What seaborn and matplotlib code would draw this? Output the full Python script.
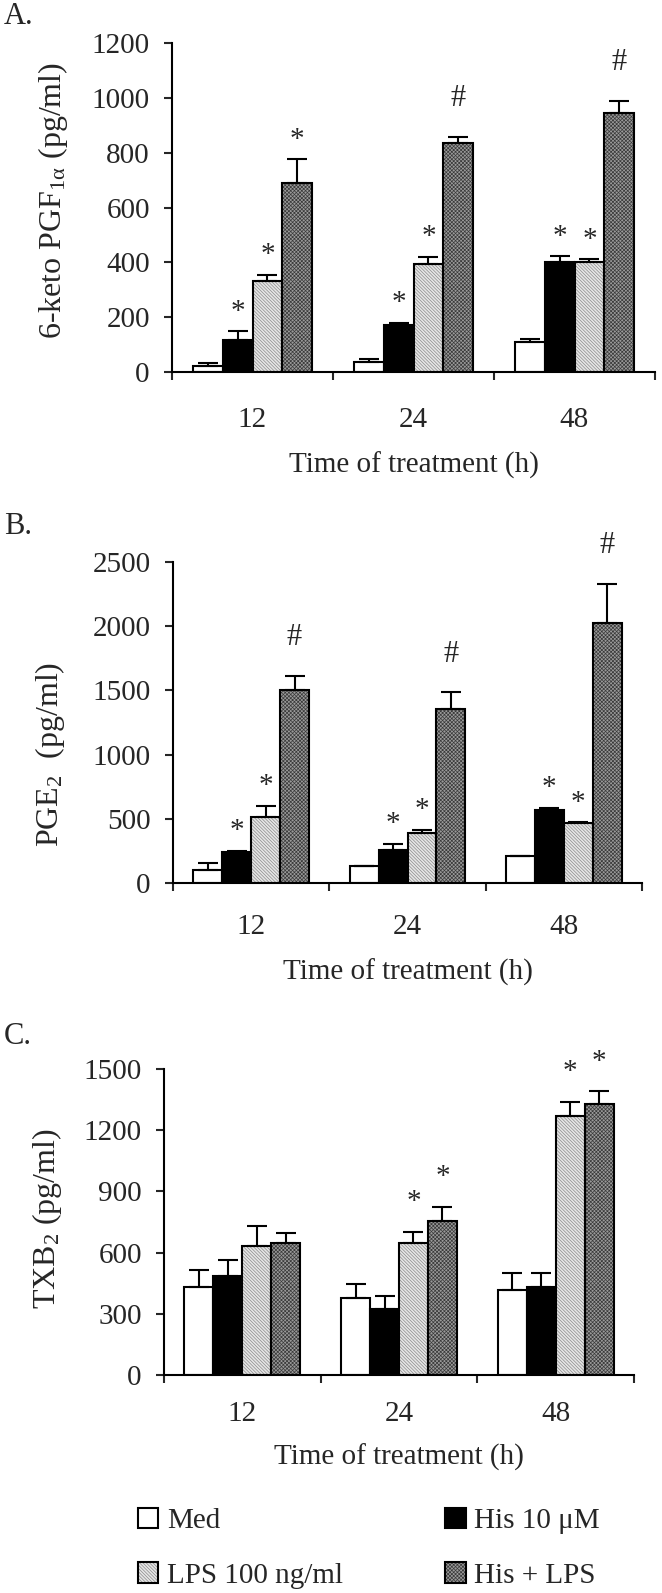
import numpy as np
import pandas as pd
import matplotlib
matplotlib.use('Agg')
import matplotlib.pyplot as plt
import seaborn as sns
from matplotlib.patches import Patch, Rectangle
from matplotlib.legend_handler import HandlerTuple

times = ['12', '24', '48']
treatments = ['Med', 'His 10 μM', 'LPS 100 ng/ml', 'His + LPS']

# A: 6-keto PGF1a
a_mean = [[22, 38, 110], [115, 171, 402], [332, 393, 400], [689, 836, 946]]
a_err = [[10, 9, 9], [33, 9, 21], [22, 27, 12], [87, 21, 44]]
a_sig = [['', '', ''], ['*', '*', '*'], ['*', '*', '*'], ['*', '#', '#']]

# B: PGE2
b_mean = [[101, 132, 213], [244, 257, 569], [511, 386, 464], [1503, 1355, 2022]]
b_err = [[52, 0, 0], [6, 47, 18], [89, 27, 11], [112, 130, 307]]
b_sig = [['', '', ''], ['*', '*', '*'], ['*', '*', '*'], ['#', '#', '#']]

# C: TXB2
c_mean = [[430, 376, 417], [485, 325, 433], [632, 645, 1270], [649, 755, 1327]]
c_err = [[85, 68, 81], [79, 64, 65], [98, 58, 70], [46, 70, 65]]
c_sig = [['', '', ''], ['', '', ''], ['', '*', '*'], ['', '*', '*']]

face_colors = ['white', 'black', '#e6e6e6', '#9a9a9a']
hatches = [None, None, '\\' * 10, 'x' * 9]
hatch_colors = [None, None, '#8a8a8a', '#3a3a3a']

sns.set_style('white')
plt.rcParams['font.family'] = ['Liberation Serif', 'DejaVu Serif']
plt.rcParams['mathtext.fontset'] = 'custom'
plt.rcParams['mathtext.rm'] = 'Liberation Serif'
plt.rcParams['mathtext.it'] = 'Liberation Serif:italic'
plt.rcParams['hatch.linewidth'] = 0.5

W, H = 662, 1593
fig = plt.figure(figsize=(W / 100, H / 100), dpi=100)


def add_axes_px(left, top, right, bottom):
    return fig.add_axes([left / W, 1 - bottom / H, (right - left) / W, (bottom - top) / H])


def draw_panel(ax, means, errs, sigs, ylabel, ymax, ystep, label_xy, star_off,
               tick_pad, xlabel_pad):
    rows = []
    for i, tr in enumerate(treatments):
        for j, t in enumerate(times):
            rows.append({'time': t, 'treatment': tr, 'value': means[i][j]})
    df = pd.DataFrame(rows)
    sns.barplot(data=df, x='time', y='value', hue='treatment', order=times,
                hue_order=treatments, palette=face_colors, saturation=1,
                width=0.74, edgecolor='black', linewidth=1.5, errorbar=None,
                legend=False, ax=ax)

    bar_conts = list(ax.containers)
    for i, cont in enumerate(bar_conts):
        xs, tops = [], []
        for bar in cont.patches:
            xs.append(bar.get_x() + bar.get_width() / 2)
            tops.append(bar.get_height())
            if hatches[i]:
                bar.set_hatch(hatches[i])
                bar.set_edgecolor(hatch_colors[i])
                bar.set_linewidth(0)
                ax.add_patch(Rectangle((bar.get_x(), 0), bar.get_width(), bar.get_height(),
                                       fill=False, edgecolor='black', linewidth=1.5, zorder=3))
        ax.errorbar(xs, tops, yerr=[np.zeros(len(xs)), errs[i]], fmt='none',
                    ecolor='black', elinewidth=1.5, capsize=7, capthick=1.5, zorder=2)
        for j, s in enumerate(sigs[i]):
            if not s:
                continue
            if s == '*':
                ax.annotate(s, (xs[j], tops[j] + errs[i][j]), xytext=(0, star_off),
                            textcoords='offset points', ha='center', va='baseline', fontsize=21)
            else:
                ax.annotate(s, (xs[j], tops[j] + errs[i][j]), xytext=(0, 22),
                            textcoords='offset points', ha='center', va='baseline', fontsize=22)

    ax.set_xlim(-0.5, 2.5)
    ax.set_ylim(0, ymax)
    ax.set_yticks(np.arange(0, ymax + 1, ystep))
    ax.set_xticks([-0.5, 0.5, 1.5, 2.5])
    ax.set_xticklabels([])
    ax.set_xticks([0, 1, 2], minor=True)
    ax.set_xticklabels(times, minor=True)
    ax.tick_params(axis='x', which='major', direction='out', length=6, width=1.5, bottom=True)
    ax.tick_params(axis='x', which='minor', length=0, pad=tick_pad, labelsize=21)
    ax.tick_params(axis='y', direction='out', length=6, width=1.5, left=True, pad=10, labelsize=21)
    for sp in ['top', 'right']:
        ax.spines[sp].set_visible(False)
    for sp in ['left', 'bottom']:
        ax.spines[sp].set_linewidth(1.5)
        ax.spines[sp].set_color('black')
    ax.set_xlabel('Time of treatment (h)', fontsize=21, labelpad=xlabel_pad)
    ax.set_ylabel(ylabel, fontsize=23, va='center', ha='center')
    ax.yaxis.set_label_coords(*label_xy)


ax_a = add_axes_px(172, 43, 655, 372)
draw_panel(ax_a, a_mean, a_err, a_sig, r'6-keto PGF$\mathregular{_{1α}}$ (pg/ml)',
           1200, 200, (-0.246, 0.52), 9, 25, 14)
ax_b = add_axes_px(173, 562, 642, 883)
draw_panel(ax_b, b_mean, b_err, b_sig, r'PGE$\mathregular{_2}$  (pg/ml)',
           2500, 500, (-0.262, 0.40), 9, 22, 14)
ax_c = add_axes_px(164, 1069, 634, 1375)
draw_panel(ax_c, c_mean, c_err, c_sig, r'TXB$\mathregular{_2}$ (pg/ml)',
           1500, 300, (-0.249, 0.51), 16, 19, 12)

fig.text(4 / W, 1 - 17 / H, 'A.', fontsize=22, va='center', ha='left')
fig.text(4 / W, 1 - 526 / H, 'B.', fontsize=22, va='center', ha='left')
fig.text(4 / W, 1 - 1037 / H, 'C.', fontsize=22, va='center', ha='left')

handles = []
for i in [0, 2, 1, 3]:
    if hatches[i]:
        h = (Patch(facecolor=face_colors[i], hatch=hatches[i], edgecolor=hatch_colors[i], linewidth=0),
             Patch(fill=False, edgecolor='black', linewidth=1.5))
    else:
        h = Patch(facecolor=face_colors[i], edgecolor='black', linewidth=1.5)
    handles.append(h)
labels = [treatments[i] for i in [0, 2, 1, 3]]
fig.legend(handles, labels, loc='upper left', bbox_to_anchor=(138 / W, 1 - 1508 / H),
           ncol=2, frameon=False, fontsize=21, handlelength=0.7, handleheight=0.7,
           handletextpad=0.3, columnspacing=3.5, labelspacing=0.95, borderpad=0,
           borderaxespad=0, handler_map={tuple: HandlerTuple(ndivide=1)})

fig.savefig('out.png', dpi=100)
